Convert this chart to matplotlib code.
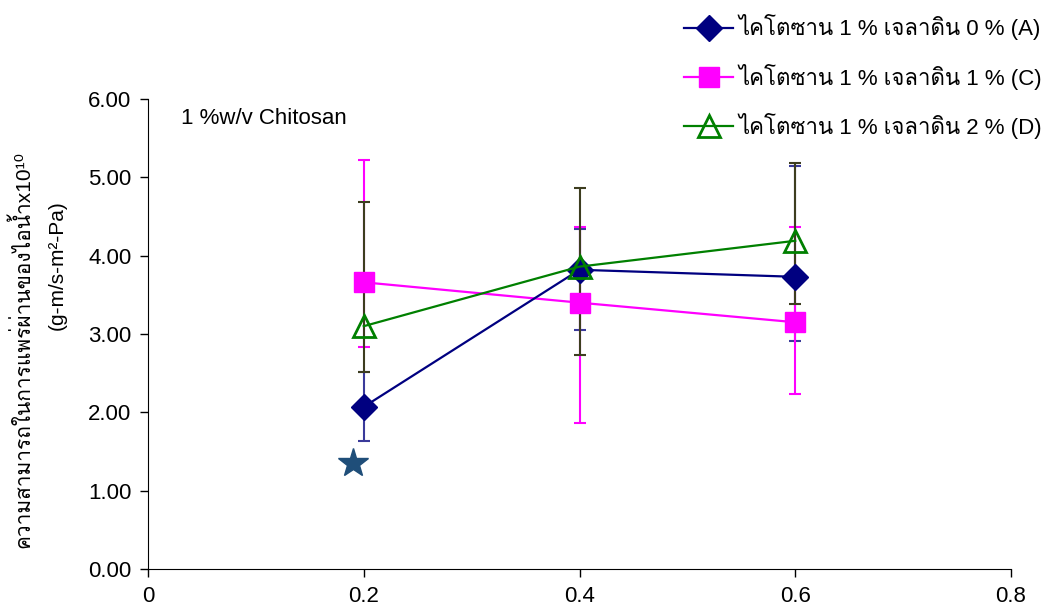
import matplotlib
matplotlib.use("Agg")
import matplotlib.pyplot as plt
from matplotlib import font_manager

# gelatin content (x) and water vapour permeability x1e10
x = [0.2, 0.4, 0.6]
a_y = [2.07, 3.82, 3.73]
a_lo = [1.63, 3.05, 2.91]
a_hi = [2.52, 4.34, 5.14]
c_y = [3.66, 3.40, 3.15]
c_lo = [2.83, 1.86, 2.23]
c_hi = [5.22, 4.37, 4.37]
d_y = [3.10, 3.86, 4.19]
d_lo = [2.51, 2.73, 3.38]
d_hi = [4.69, 4.87, 5.18]
star_x, star_y = 0.19, 1.35

labels = ["ไคโตซาน 1 % เจลาดิน 0 % (A)",
          "ไคโตซาน 1 % เจลาดิน 1 % (C)",
          "ไคโตซาน 1 % เจลาดิน 2 % (D)"]
yticks = [0, 1, 2, 3, 4, 5, 6]
xticks = [0, 0.2, 0.4, 0.6, 0.8]

# pick a font that can draw Thai if one is around
thai = None
for f in font_manager.fontManager.ttflist:
    if any(k in f.name for k in ("Thai", "Tlwg", "Garuda", "Loma", "Sarabun", "Kinnari", "Norasi")):
        thai = f.name
        break
fams = ["Liberation Sans"] + ([thai] if thai else []) + ["DejaVu Sans"]
plt.rcParams["font.family"] = fams

fig = plt.figure(figsize=(10.45, 6.13), dpi=100)
ax = fig.add_axes([148 / 1045, 44 / 613, 863 / 1045, 470 / 613])


def err(y, lo, hi):
    return [[v - l for v, l in zip(y, lo)], [h - v for v, h in zip(y, hi)]]


ekw = dict(fmt="none", capsize=4.5, elinewidth=1.5, capthick=1.5)
ax.errorbar(x, a_y, yerr=err(a_y, a_lo, a_hi), ecolor="#3a3a9a", zorder=2, **ekw)
ax.errorbar(x, c_y, yerr=err(c_y, c_lo, c_hi), ecolor="#ff00ff", zorder=2.1, **ekw)
ax.errorbar(x, d_y, yerr=err(d_y, d_lo, d_hi), ecolor="#3d3d1f", zorder=2.2, **ekw)

la, = ax.plot(x, a_y, color="#000080", lw=1.6, marker="D", ms=13, zorder=4)
lc, = ax.plot(x, c_y, color="#ff00ff", lw=1.6, marker="s", ms=14, zorder=3)
ld, = ax.plot(x, d_y, color="#008000", lw=1.6, marker="^", ms=16,
              mfc="none", mew=2, zorder=5)
ax.plot([star_x], [star_y], marker="*", ms=22, color="#1f4e79", ls="none", zorder=5)

ax.set_xlim(0, 0.8)
ax.set_ylim(0, 6)
ax.set_xticks(xticks, [f"{t:g}" for t in xticks])
ax.set_yticks(yticks, [f"{t:.2f}" for t in yticks])
ax.tick_params(labelsize=16, length=6, width=1, direction="out", pad=6)
for s in ("top", "right"):
    ax.spines[s].set_visible(False)

ax.text(0.031, 5.75, "1 %w/v Chitosan", fontsize=16, va="center", ha="left")

# unicode superscripts keep the Thai text out of mathtext
fig.text(22 / 1045, 1 - 349 / 613, "ความสามารถในการแพร่ผ่านของไอน้ำx10¹⁰",
         rotation=90, fontsize=15, ha="center", va="center")
fig.text(57 / 1045, 1 - 265 / 613, "(g-m/s-m²-Pa)",
         rotation=90, fontsize=15, ha="center", va="center")

fig.legend([la, lc, ld], labels, loc="upper left", bbox_to_anchor=(680 / 1045, 1 - 10 / 613),
           frameon=False, fontsize=16, handlelength=2.2, handletextpad=0.25,
           labelspacing=1.05, borderaxespad=0, borderpad=0.2)

fig.savefig("out.png", dpi=100)
